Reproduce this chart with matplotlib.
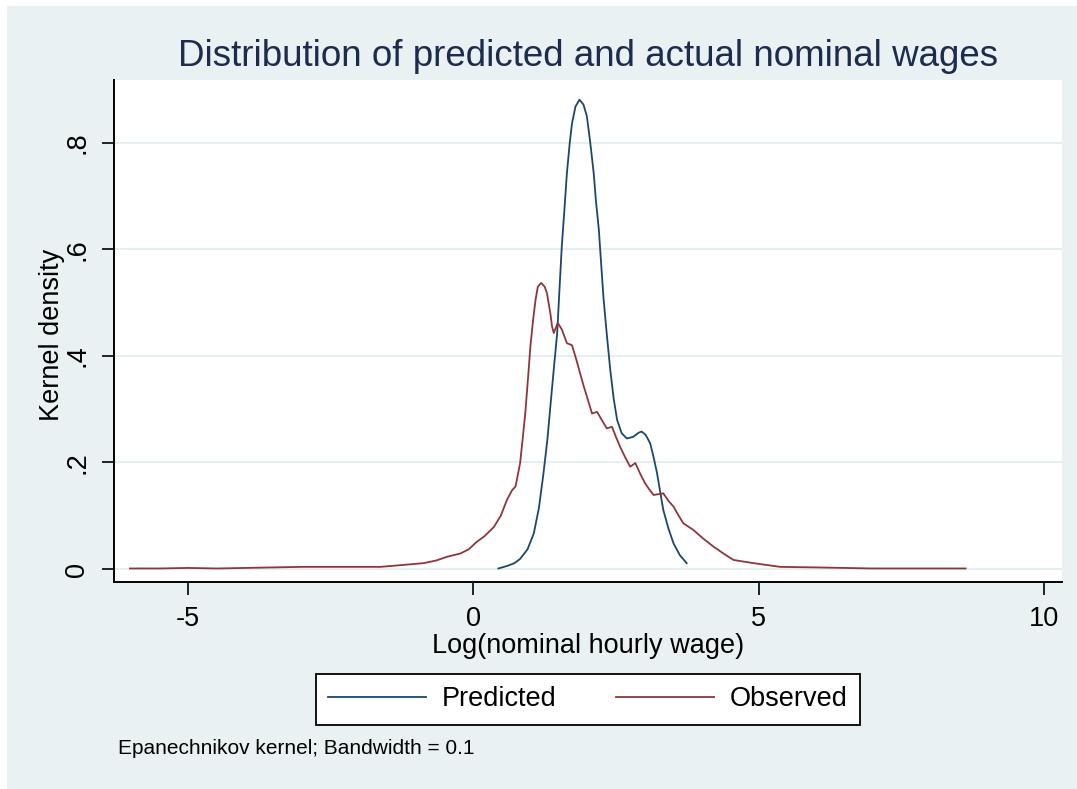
import matplotlib.pyplot as plt
from matplotlib.patches import Rectangle

# kernel density of predicted log wages
pred_x = [0.44, 0.60, 0.72, 0.82, 0.95, 1.06, 1.15, 1.23, 1.30, 1.35, 1.41, 1.47, 1.51, 1.55,
          1.60, 1.64, 1.69, 1.73, 1.79, 1.86, 1.93, 1.99, 2.05, 2.11, 2.15, 2.20, 2.28,
          2.34, 2.40, 2.46, 2.52, 2.60, 2.69, 2.80, 2.90, 2.95, 3.02, 3.10, 3.16, 3.22,
          3.28, 3.33, 3.42, 3.51, 3.62, 3.74]
pred_y = [0.001, 0.006, 0.011, 0.019, 0.037, 0.067, 0.115, 0.180, 0.245, 0.305, 0.375, 0.443, 0.525, 0.605,
          0.680, 0.743, 0.800, 0.837, 0.868, 0.881, 0.872, 0.850, 0.800, 0.743, 0.690, 0.637, 0.511,
          0.440, 0.374, 0.320, 0.280, 0.255, 0.245, 0.248, 0.256, 0.258, 0.252, 0.236, 0.210, 0.180,
          0.142, 0.111, 0.076, 0.048, 0.026, 0.011]

# kernel density of observed log wages
obs_x = [-6.02, -5.5, -5.0, -4.5, -4.0, -3.5, -3.0, -2.5, -2.0, -1.63, -1.3, -0.87, -0.65,
         -0.46, -0.23, -0.08, 0.06, 0.20, 0.36, 0.48, 0.59, 0.68, 0.74, 0.82, 0.87, 0.91,
         0.96, 1.00, 1.05, 1.09, 1.13, 1.19, 1.25, 1.29, 1.35, 1.38, 1.41, 1.48, 1.55,
         1.64, 1.73, 1.80, 1.87, 1.93, 1.99, 2.08, 2.17, 2.25, 2.34, 2.43, 2.50, 2.57,
         2.66, 2.75, 2.84, 2.92, 3.01, 3.08, 3.16, 3.33, 3.42, 3.51, 3.60, 3.68, 3.86,
         4.02, 4.21, 4.40, 4.56, 4.91, 5.38, 6.0, 6.5, 7.0, 7.5, 8.0, 8.63]
obs_y = [0.001, 0.001, 0.002, 0.001, 0.002, 0.003, 0.004, 0.004, 0.004, 0.004, 0.007, 0.011, 0.016,
         0.023, 0.029, 0.037, 0.051, 0.062, 0.079, 0.100, 0.130, 0.148, 0.155, 0.199, 0.250, 0.292,
         0.360, 0.418, 0.470, 0.505, 0.530, 0.537, 0.530, 0.518, 0.480, 0.455, 0.443, 0.462, 0.450,
         0.424, 0.420, 0.395, 0.368, 0.345, 0.324, 0.292, 0.295, 0.280, 0.264, 0.267, 0.248, 0.230,
         0.210, 0.192, 0.199, 0.180, 0.161, 0.150, 0.139, 0.142, 0.128, 0.117, 0.100, 0.086, 0.073,
         0.058, 0.042, 0.028, 0.017, 0.011, 0.004, 0.003, 0.002, 0.001, 0.001, 0.001, 0.001]

x_ticks = [-5, 0, 5, 10]
y_ticks = [0, 0.2, 0.4, 0.6, 0.8]
y_tick_labels = ['0', '.2', '.4', '.6', '.8']

plt.rcParams['font.family'] = ['Liberation Sans', 'DejaVu Sans']
plt.rcParams['axes.unicode_minus'] = False

W, H = 1077, 789
fig = plt.figure(figsize=(W / 100, H / 100), dpi=100, facecolor='white')
bg = '#EAF1F3'
fig.patches.append(Rectangle((7 / W, 0), 1, (H - 6) / H, transform=fig.transFigure,
                             facecolor=bg, edgecolor='none', zorder=-10))

ax = fig.add_axes([114 / W, (H - 582) / H, (1062 - 114) / W, (582 - 80) / H])
ax.set_facecolor('white')

ax.plot(pred_x, pred_y, color='#1a476f', lw=1.3, label='Predicted')
ax.plot(obs_x, obs_y, color='#90353b', lw=1.3, label='Observed')

ax.set_xlim(-6.30, 10.32)
ax.set_ylim(-0.0244, 0.918)
ax.set_xticks(x_ticks)
ax.set_yticks(y_ticks)
ax.set_yticklabels(y_tick_labels, rotation=90, va='center')
ax.grid(axis='y', color='#E6EEF1', lw=1.5)
ax.set_axisbelow(True)
for s in ['top', 'right']:
    ax.spines[s].set_visible(False)
for s in ['left', 'bottom']:
    ax.spines[s].set_linewidth(1.4)
ax.tick_params(axis='both', length=9, width=1.2, labelsize=19.5, pad=8)

fig.text(588 / W, 1 - 57 / H, 'Distribution of predicted and actual nominal wages',
         ha='center', va='center', fontsize=26.5, color='#1c2b4e')
fig.text(52 / W, 1 - 335 / H, 'Kernel density', rotation=90, ha='center', va='center', fontsize=19.5)
fig.text(588 / W, 1 - 646 / H, 'Log(nominal hourly wage)', ha='center', va='center', fontsize=19.5)
fig.text(118 / W, 1 - 748 / H, 'Epanechnikov kernel; Bandwidth = 0.1', ha='left', va='center', fontsize=15)

leg = ax.legend(loc='center', bbox_to_anchor=(588 / W, 1 - 699.5 / H), bbox_transform=fig.transFigure,
                ncol=2, frameon=True, fancybox=False, edgecolor='black', framealpha=1,
                fontsize=19.5, handlelength=3.6, handletextpad=0.6, columnspacing=2.2,
                borderpad=0.45, borderaxespad=0)
leg.get_frame().set_linewidth(1.3)

fig.savefig('out.png', dpi=100, facecolor=fig.get_facecolor())
